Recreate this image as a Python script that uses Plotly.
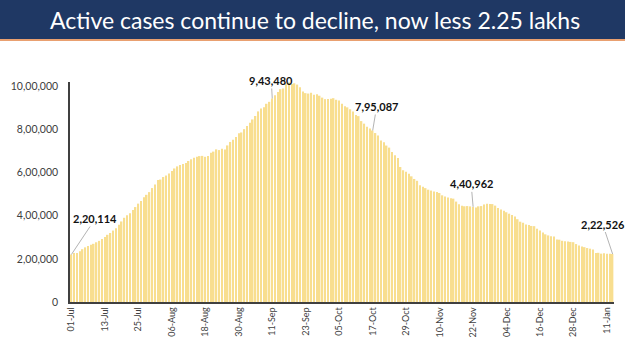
import pandas as pd
import plotly.graph_objects as go

# Active cases by day (01-Jul-2020 to 11-Jan-2021)
jul = [220114, 226947, 227439, 235433, 244814, 253287, 259557, 264944, 269789, 276882,
       283407, 292258, 301609, 311565, 319840, 331146, 342473, 358692, 373379, 390459,
       402529, 411133, 426167, 440135, 456071, 467882, 485114, 496988, 509447, 528242, 545318]
aug = [565103, 567730, 579357, 586298, 595501, 607384, 619088, 628747, 634945, 639929,
       643948, 653622, 661595, 668220, 673166, 676514, 677444, 673166, 676900, 692028,
       697330, 707668, 704348, 710771, 707267, 725991, 742023, 752424, 765302, 781975, 785996]
sep = [801282, 815538, 831124, 846395, 862320, 883697, 897394, 903000, 919018, 928000,
       943480, 958316, 973175, 986598, 990061, 1009976, 1017754, 1010824, 1013964, 1008000,
       995933, 975861, 968377, 966382, 970116, 960969, 962640, 956402, 947576, 940441]
oct_ = [940705, 942217, 944996, 937625, 934427, 919023, 907883, 902425, 893592, 883185,
        867496, 861853, 838729, 826876, 812390, 804528, 795087, 783311, 772055, 748538,
        740090, 725357, 715812, 695509, 680680, 668154, 625857, 610803, 603687, 594386, 582649]
nov = [570458, 561908, 541405, 533787, 527962, 520775, 516632, 512665, 509673, 505265,
       494657, 489294, 484547, 480719, 479216, 465478, 453401, 446805, 443794, 444746,
       443303, 440962, 438667, 443486, 444746, 452344, 455555, 454940, 453956, 446952]
dec = [435603, 428644, 422943, 416082, 409689, 403248, 396729, 383866, 372293, 367467,
       359819, 356546, 352586, 351555, 339820, 332002, 322366, 313831, 308751, 305344,
       303639, 289240, 289000, 283849, 281919, 281000, 278690, 277301, 268581, 262272, 257656]
jan = [254254, 250183, 247220, 243953, 227546, 228083, 224190, 225449, 224190, 223143, 222526]

values = jul + aug + sep + oct_ + nov + dec + jan
dates = pd.date_range("2020-07-01", "2021-01-11", freq="D")
categories = [d.strftime("%d-%b") for d in dates]

tick_cats = categories[::12]
tick_text = tick_cats[:-1] + ["11-Jan"]

y_ticks = [0, 200000, 400000, 600000, 800000, 1000000]
y_text = ["0", "2,00,000", "4,00,000", "6,00,000", "8,00,000", "10,00,000"]

callouts = [("01-Jul", 220114, "2,20,114", 24, -36),
            ("11-Sep", 943480, "9,43,480", -1, -18),
            ("17-Oct", 795087, "7,95,087", 4, -24),
            ("22-Nov", 440962, "4,40,962", -2, -23),
            ("11-Jan", 222526, "2,22,526", -10, -30)]

title = "Active cases continue to decline, now less 2.25 lakhs"

fig = go.Figure(go.Bar(x=categories, y=values, marker=dict(color="#F8DE8F", line_width=0)))

fig.update_layout(
    width=625, height=351,
    margin=dict(l=66, r=11, t=82, b=49),
    paper_bgcolor="white", plot_bgcolor="white",
    bargap=0.45, showlegend=False,
    font=dict(family="Lato", color="#404040"),
)
fig.update_xaxes(type="category", range=[-0.5, len(values) - 0.5],
                 tickmode="array", tickvals=tick_cats, ticktext=tick_text,
                 tickangle=-90, tickfont=dict(size=9, family="Lato", color="#404040"),
                 showline=True, linecolor="#404040", linewidth=1.5,
                 showgrid=False, ticks="", zeroline=False)
fig.update_yaxes(range=[0, 1020000], tickmode="array", tickvals=y_ticks, ticktext=y_text,
                 tickfont=dict(size=10.5, family="Lato", color="#404040"),
                 showline=True, linecolor="#404040", linewidth=1.5,
                 showgrid=False, ticks="", zeroline=False, ticklabelstandoff=8)

# title banner
fig.add_shape(type="rect", xref="paper", yref="paper", x0=-0.2, x1=1.1,
              y0=1 + (82 - 39) / 220, y1=1 + 82 / 220 + 0.01,
              fillcolor="#1F3864", line_width=0, layer="above")
fig.add_shape(type="line", xref="paper", yref="paper", x0=-0.2, x1=1.1,
              y0=1 + (82 - 40) / 220, y1=1 + (82 - 40) / 220,
              line=dict(color="#E9A070", width=2))
fig.add_annotation(text=title, xref="paper", yref="paper",
                   x=(313 - 66) / 548, y=1 + (82 - 20) / 220, showarrow=False,
                   xanchor="center", yanchor="middle",
                   font=dict(family="Lato", size=23, color="white"))

for cat, val, txt, ax, ay in callouts:
    fig.add_annotation(x=cat, y=val, text="<b>" + txt + "</b>", showarrow=True,
                       ax=ax, ay=ay, arrowhead=0, arrowwidth=0.8, arrowcolor="#A0A0A0",
                       standoff=0, font=dict(family="Lato", size=11, color="#111111"))

fig.write_html("out.html")
